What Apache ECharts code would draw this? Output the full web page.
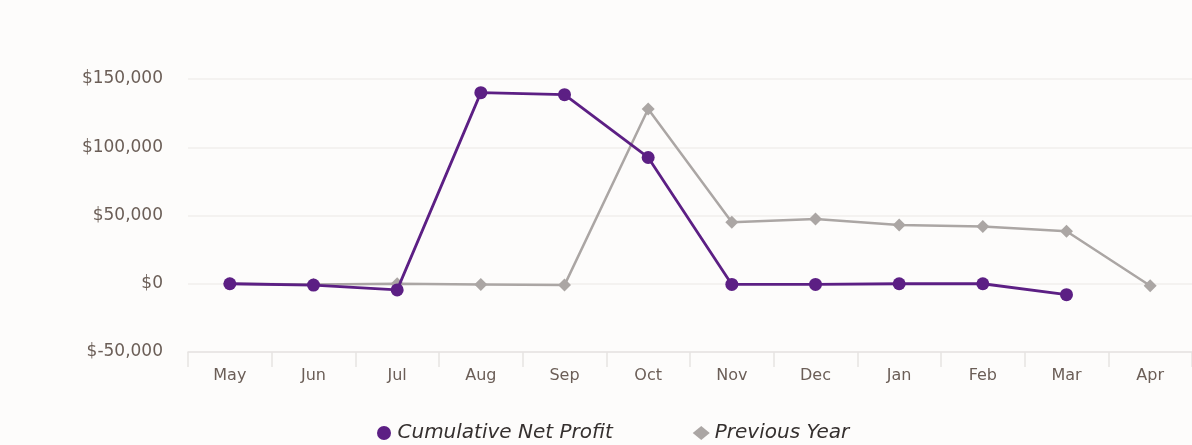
<!DOCTYPE html>
<html>
<head>
<meta charset="utf-8">
<script src="https://cdn.jsdelivr.net/npm/echarts@6/dist/echarts.min.js"></script>
<style>
html,body{margin:0;padding:0;background:#fdfcfb;}
#chart{width:1192px;height:445px;}
</style>
</head>
<body>
<div id="chart"></div>
<script>
const months = ['May','Jun','Jul','Aug','Sep','Oct','Nov','Dec','Jan','Feb','Mar','Apr'];
const cumulativeNetProfit = [0, -1000, -4500, 140000, 138500, 92500, -500, -500, 0, 0, -8000, null];
const previousYear = [0, -500, 0, -500, -1000, 128000, 45000, 47500, 43000, 42000, 38500, -1500];
const yTicks = {min: -50000, max: 150000, interval: 50000};

const chart = echarts.init(document.getElementById('chart'));
chart.setOption({
  backgroundColor: '#fdfcfb',
  animation: false,
  textStyle: {fontFamily: 'DejaVu Sans'},
  grid: {left: 188, right: 0, top: 79, bottom: 93},
  legend: {
    bottom: -3,
    left: 372,
    itemGap: 80,
    itemWidth: 17,
    itemHeight: 14,
    textStyle: {fontSize: 20, fontStyle: 'italic', color: '#35302f', fontFamily: 'DejaVu Sans'},
    data: [
      {name: 'Cumulative Net Profit', icon: 'circle'},
      {name: 'Previous Year', icon: 'diamond'}
    ]
  },
  xAxis: {
    type: 'category',
    data: months,
    boundaryGap: true,
    axisLine: {show: true, onZero: false, lineStyle: {color: '#e6e4e2', width: 1.5}},
    axisTick: {show: true, length: 15, interval: 0, lineStyle: {color: '#e6e4e2', width: 1.5}},
    axisLabel: {color: '#6b5e57', fontSize: 16, margin: 16}
  },
  yAxis: {
    type: 'value',
    min: yTicks.min, max: yTicks.max, interval: yTicks.interval,
    axisLine: {show: false},
    axisTick: {show: false},
    splitLine: {lineStyle: {color: '#f1efed', width: 1.5}},
    axisLabel: {
      color: '#6b5e57', fontSize: 17, margin: 25,
      formatter: v => '$' + v.toLocaleString('en-US')
    }
  },
  series: [
    {
      name: 'Previous Year',
      type: 'line',
      data: previousYear,
      symbol: 'diamond',
      symbolSize: 13,
      z: 2,
      itemStyle: {color: '#aba6a4'},
      lineStyle: {color: '#aba6a4', width: 2.5}
    },
    {
      name: 'Cumulative Net Profit',
      type: 'line',
      data: cumulativeNetProfit,
      symbol: 'circle',
      symbolSize: 13,
      z: 3,
      itemStyle: {color: '#5c1f84'},
      lineStyle: {color: '#5c1f84', width: 2.8}
    }
  ]
});
</script>
</body>
</html>
